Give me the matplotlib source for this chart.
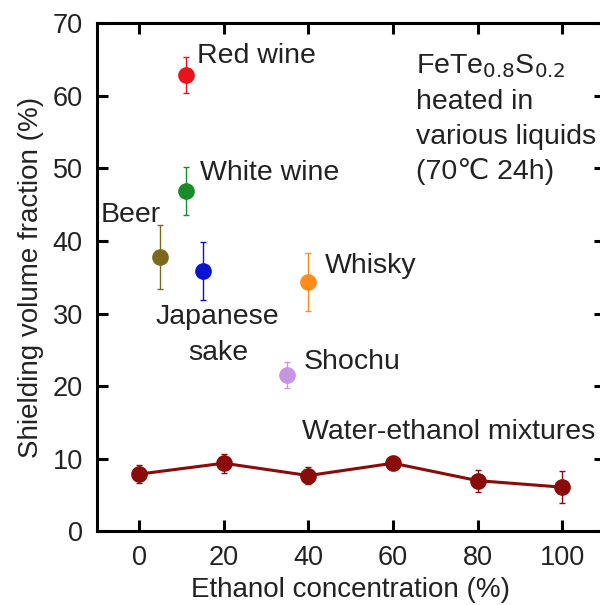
import matplotlib
matplotlib.use("Agg")
import matplotlib.pyplot as plt

plt.rcParams['font.family'] = ['Liberation Sans', 'DejaVu Sans']

# beverages: (name, ethanol %, shielding fraction %, error)
drinks = ['Red wine', 'White wine', 'Beer', 'Japanese\nsake', 'Whisky', 'Shochu']
drink_x = [11, 11, 5, 15, 40, 35]
drink_y = [62.8, 46.9, 37.8, 35.8, 34.4, 21.6]
drink_err = [2.5, 3.3, 4.4, 4.0, 4.0, 1.8]
drink_colors = ['#e8141b', '#1a8a2a', '#7b6a1e', '#0a14d0', '#ff8c1a', '#c896e0']

# water-ethanol mixtures
mix_x = [0, 20, 40, 60, 80, 100]
mix_y = [7.9, 9.4, 7.7, 9.4, 7.0, 6.1]
mix_err = [1.2, 1.3, 1.2, 0.8, 1.5, 2.2]

fig = plt.figure(figsize=(6.0, 6.05), dpi=100)
ax = fig.add_axes([0.1612, 0.1215, 0.8467, 0.8405])

for x, y, e, c in zip(drink_x, drink_y, drink_err, drink_colors):
    ax.errorbar(x, y, yerr=e, fmt='o', color=c, markersize=11,
                elinewidth=1, capsize=2.5, capthick=1)

ax.errorbar(mix_x, mix_y, yerr=mix_err, fmt='-o', color='#8b0a0a', markersize=11,
            linewidth=2.2, elinewidth=1, capsize=2.5, capthick=1)

lbl = dict(fontsize=20.5, color='#222222')
ax.text(13.8, 65.4, 'Red wine', va='center', **lbl)
ax.text(14.5, 49.3, 'White wine', va='center', **lbl)
ax.text(-9, 43.6, 'Beer', va='center', **lbl)
ax.text(18.6, 29.5, 'Japanese', va='center', ha='center', **lbl)
ax.text(18.6, 24.6, 'sake', va='center', ha='center', **lbl)
ax.text(44, 36.6, 'Whisky', va='center', **lbl)
ax.text(38.8, 23.4, 'Shochu', va='center', **lbl)
ax.text(38.5, 13.7, 'Water-ethanol mixtures', va='center', **lbl)
ax.text(65.5, 64.0, r'FeTe$_{0.8}$S$_{0.2}$', va='center', **lbl)
ax.text(65.5, 59.1, 'heated in', va='center', **lbl)
ax.text(65.5, 54.3, 'various liquids', va='center', **lbl)
ax.text(65.5, 49.6, '(70\u2103 24h)', va='center', **lbl)

ax.set_xlim(-10, 110)
ax.set_ylim(0, 70)
ax.set_xticks([0, 20, 40, 60, 80, 100])
ax.set_yticks(range(0, 71, 10))
ax.tick_params(direction='in', length=8, width=2.2, top=True, right=True,
               labelsize=19.5, pad=10, colors='black', labelcolor='#222222')
for s in ax.spines.values():
    s.set_linewidth(2.2)

ax.set_xlabel('Ethanol concentration (%)', fontsize=20, color='#222222', labelpad=4)
ax.set_ylabel('Shielding volume fraction (%)', fontsize=20, color='#222222', labelpad=6)

fig.savefig('out.png', dpi=100)
